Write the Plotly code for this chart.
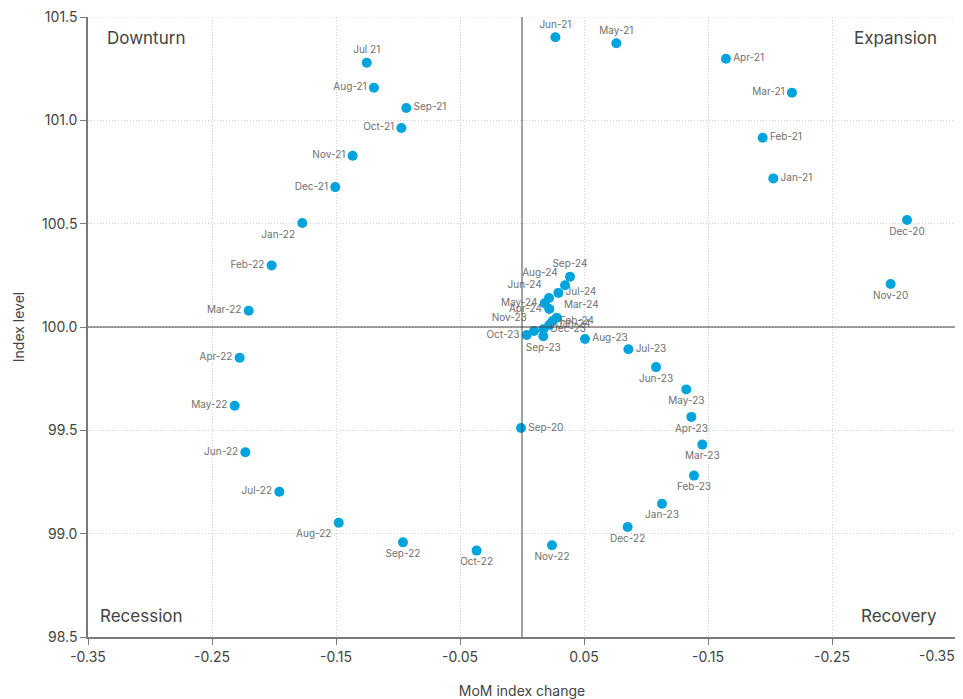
import plotly.graph_objects as go

months = ["Sep-20", "Nov-20", "Dec-20", "Jan-21", "Feb-21", "Mar-21", "Apr-21", "May-21", "Jun-21",
          "Jul 21", "Aug-21", "Sep-21", "Oct-21", "Nov-21", "Dec-21",
          "Jan-22", "Feb-22", "Mar-22", "Apr-22", "May-22", "Jun-22", "Jul-22", "Aug-22",
          "Sep-22", "Oct-22", "Nov-22", "Dec-22",
          "Jan-23", "Feb-23", "Mar-23", "Apr-23", "May-23", "Jun-23", "Jul-23", "Aug-23",
          "Sep-23", "Oct-23", "Nov-23", "Dec-23",
          "Jan-24", "Feb-24", "Mar-24", "Apr-24", "May-24", "Jun-24", "Jul-24", "Aug-24", "Sep-24"]

mom_change = [-0.0008, 0.2973, 0.3105, 0.2027, 0.1941, 0.2177, 0.1645, 0.0761, 0.0269,
              -0.1252, -0.1194, -0.0933, -0.0973, -0.1366, -0.1506,
              -0.1772, -0.2019, -0.2204, -0.2277, -0.2317, -0.2231, -0.1957, -0.1478,
              -0.0960, -0.0366, 0.0242, 0.0852,
              0.1129, 0.1387, 0.1454, 0.1366, 0.1325, 0.1081, 0.0858, 0.0508,
              0.0172, 0.0038, 0.0097, 0.0172,
              0.0220, 0.0247, 0.0280, 0.0220, 0.0183, 0.0218, 0.0293, 0.0347, 0.0387]

index_level = [99.511, 100.208, 100.518, 100.719, 100.916, 101.134, 101.298, 101.373, 101.402,
               101.279, 101.158, 101.060, 100.963, 100.829, 100.677,
               100.503, 100.298, 100.079, 99.851, 99.619, 99.394, 99.203, 99.053,
               98.958, 98.918, 98.944, 99.032,
               99.145, 99.281, 99.431, 99.565, 99.698, 99.806, 99.892, 99.942,
               99.955, 99.961, 99.981, 99.989,
               100.010, 100.029, 100.045, 100.087, 100.115, 100.140, 100.165, 100.202, 100.243]

label_pos = ["middle right", "bottom center", "bottom center", "middle right", "middle right", "middle left",
             "middle right", "top center", "top center",
             "top center", "middle left", "middle right", "middle left", "middle left", "middle left",
             "bottom left", "middle left", "middle left", "middle left", "middle left", "middle left",
             "middle left", "bottom left",
             "bottom center", "bottom center", "bottom center", "bottom center",
             "bottom center", "bottom center", "bottom center", "bottom center", "bottom center",
             "bottom center", "middle right", "middle right",
             "bottom center", "middle left", "top left", "middle right",
             "middle right", "middle right", "top right", "middle left", "middle left", "top left",
             "middle right", "top left", "top center"]

x_tickvals = [-0.35, -0.25, -0.15, -0.05, 0.05, 0.15, 0.25, 0.35]
x_ticktext = ["-0.35", "-0.25", "-0.15", "-0.05", "0.05", "-0.15", "-0.25", "-0.35"]
y_tickvals = [98.5, 99.0, 99.5, 100.0, 100.5, 101.0, 101.5]
y_ticktext = ["98.5", "99.0", "99.5", "100.0", "100.5", "101.0", "101.5"]

quadrants = ["Downturn", "Expansion", "Recession", "Recovery"]

FONT = "Inter, Roboto, sans-serif"
TICKFONT = dict(family=FONT, size=14, color="#444444")
GRIDCOLOR = "#cfcfcf"
GRIDDASH = "1px,2px"

fig = go.Figure()
fig.add_trace(go.Scatter(
    x=mom_change, y=index_level, mode="markers+text",
    text=months, textposition=label_pos,
    textfont=dict(family=FONT, size=10, color="#707070"),
    marker=dict(size=10, color="#00a3dc"),
    cliponaxis=False, showlegend=False, hoverinfo="x+y+text",
))

grid = dict(showgrid=True, gridcolor=GRIDCOLOR, griddash=GRIDDASH, gridwidth=1)
# last x tick label is drawn right-aligned at the edge (as in the reference)
fig.update_xaxes(range=[-0.35, 0.35], tickvals=x_tickvals,
                 ticktext=x_ticktext[:-1] + [""],
                 zeroline=False, showline=True, linecolor="#7a7a7a", linewidth=1.5,
                 ticks="outside", ticklen=6, tickcolor="#7a7a7a",
                 tickfont=TICKFONT, automargin=False,
                 title=dict(text="MoM index change", font=dict(family=FONT, size=14, color="#444444"), standoff=24),
                 **grid)
fig.update_yaxes(range=[98.5, 101.5], tickvals=y_tickvals, ticktext=y_ticktext,
                 zeroline=False, showline=True, linecolor="#7a7a7a", linewidth=1.5,
                 ticks="outside", ticklen=6, tickcolor="#7a7a7a",
                 tickfont=TICKFONT, automargin=False, ticklabeloverflow="allow",
                 title=dict(text="Index level", font=dict(family=FONT, size=14, color="#444444"), standoff=14),
                 **grid)
fig.add_annotation(x=x_tickvals[-1], y=0, xref="x", yref="paper", text=x_ticktext[-1],
                   showarrow=False, xanchor="right", yanchor="top", yshift=-8, xshift=1,
                   font=TICKFONT)

# top grid line (plotly omits it at the range edge)
fig.add_shape(type="line", xref="x", yref="y", x0=-0.35, x1=0.35, y0=y_tickvals[-1], y1=y_tickvals[-1],
              line=dict(color=GRIDCOLOR, width=1, dash=GRIDDASH))
# centre cross lines and right border
fig.add_shape(type="line", xref="x", yref="y", x0=0, x1=0, y0=98.5, y1=101.5,
              line=dict(color="#444444", width=1))
fig.add_shape(type="line", xref="x", yref="y", x0=-0.35, x1=0.35, y0=100, y1=100,
              line=dict(color="#444444", width=1))
fig.add_shape(type="line", xref="x", yref="y", x0=0.35, x1=0.35, y0=98.5, y1=101.5,
              line=dict(color="#7a7a7a", width=1.5))

qfont = dict(family=FONT, size=17, color="#444444")
fig.add_annotation(x=0.02, y=0.985, xref="paper", yref="paper", text=quadrants[0],
                   showarrow=False, xanchor="left", yanchor="top", font=qfont)
fig.add_annotation(x=0.98, y=0.985, xref="paper", yref="paper", text=quadrants[1],
                   showarrow=False, xanchor="right", yanchor="top", font=qfont)
fig.add_annotation(x=0.012, y=0.015, xref="paper", yref="paper", text=quadrants[2],
                   showarrow=False, xanchor="left", yanchor="bottom", font=qfont)
fig.add_annotation(x=0.98, y=0.015, xref="paper", yref="paper", text=quadrants[3],
                   showarrow=False, xanchor="right", yanchor="bottom", font=qfont)

# page body adds an 8px offset, so the figure is sized to land the plot area at the reference position
fig.update_layout(width=955, height=691, margin=dict(l=80, r=7, t=9, b=62),
                  plot_bgcolor="white", paper_bgcolor="white",
                  font=dict(family=FONT))
fig.write_html("out.html")
